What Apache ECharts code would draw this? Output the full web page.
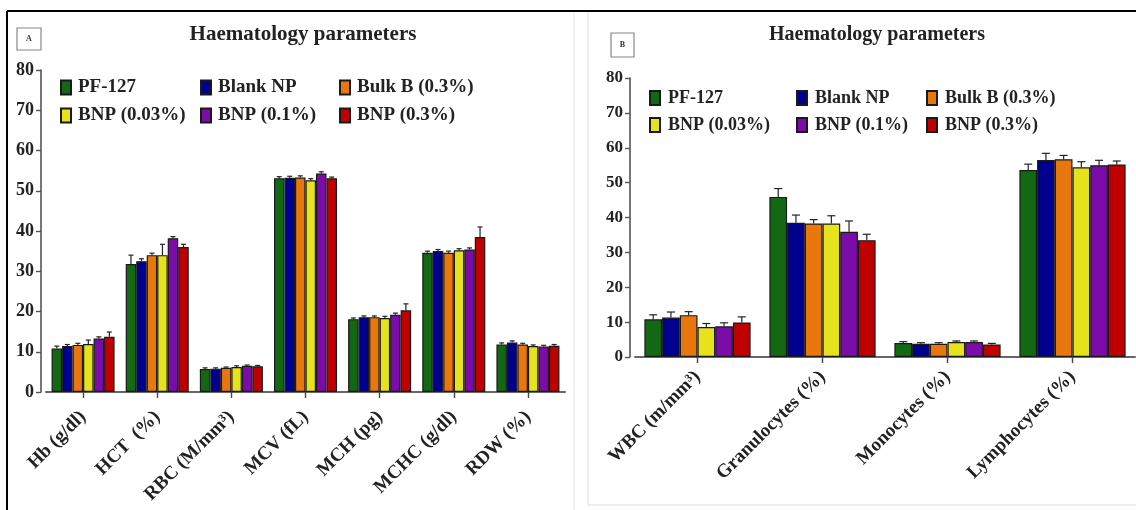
<!DOCTYPE html>
<html>
<head>
<meta charset="utf-8">
<script src="https://cdn.jsdelivr.net/npm/echarts@6/dist/echarts.min.js"></script>
<style>
  html, body { margin: 0; padding: 0; background: #fff; }
  #chart { width: 1136px; height: 510px; }
</style>
</head>
<body>
<div id="chart"></div>
<script>
// Panel A: red cell indices
const paramsA = ['Hb (g/dl)', 'HCT  (%)', 'RBC (M/mm³)', 'MCV (fL)', 'MCH (pg)', 'MCHC (g/dl)', 'RDW (%)'];
// Panel B: white cell counts
const paramsB = ['WBC (m/mm³)', 'Granulocytes (%)', 'Monocytes (%)', 'Lymphocytes (%)'];

const groupNames = ['PF-127', 'Blank NP', 'Bulk B (0.3%)', 'BNP (0.03%)', 'BNP (0.1%)', 'BNP (0.3%)'];

const pf127A   = [10.8, 31.8, 5.7, 53.1, 18.1, 34.6, 11.8];
const blankNpA = [11.4, 32.5, 5.8, 53.2, 18.6, 35.0, 12.3];
const bulkBA   = [11.7, 34.0, 6.0, 53.3, 18.6, 34.6, 11.8];
const bnp003A  = [11.9, 34.0, 6.2, 52.6, 18.4, 35.2, 11.4];
const bnp01A   = [13.3, 38.2, 6.5, 54.3, 19.2, 35.4, 11.3];
const bnp03A   = [13.7, 36.0, 6.4, 53.1, 20.3, 38.5, 11.5];

const pf127AErr   = [0.6, 2.2, 0.3, 0.4, 0.3, 0.4, 0.4];
const blankNpAErr = [0.4, 0.6, 0.2, 0.4, 0.3, 0.4, 0.4];
const bulkBAErr   = [0.4, 0.5, 0.2, 0.4, 0.3, 0.4, 0.3];
const bnp003AErr  = [1.0, 2.7, 0.3, 0.4, 0.4, 0.4, 0.3];
const bnp01AErr   = [0.4, 0.4, 0.2, 0.4, 0.4, 0.4, 0.3];
const bnp03AErr   = [1.2, 0.7, 0.2, 0.3, 1.6, 2.5, 0.3];

const pf127B   = [10.8, 45.9, 4.0, 53.6];
const blankNpB = [11.3, 38.5, 3.8, 56.5];
const bulkBB   = [12.0, 38.3, 3.8, 56.7];
const bnp003B  = [8.6, 38.3, 4.3, 54.4];
const bnp01B   = [8.8, 35.9, 4.3, 55.0];
const bnp03B   = [9.9, 33.5, 3.6, 55.2];

const pf127BErr   = [1.3, 2.4, 0.4, 1.7];
const blankNpBErr = [1.6, 2.2, 0.3, 1.9];
const bulkBBErr   = [1.0, 1.1, 0.3, 1.1];
const bnp003BErr  = [1.0, 2.2, 0.3, 1.6];
const bnp01BErr   = [1.0, 3.1, 0.3, 1.4];
const bnp03BErr   = [1.6, 1.7, 0.3, 1.0];

const yTicks = [0, 10, 20, 30, 40, 50, 60, 70, 80];

const colors = ['#136813', '#00008e', '#e8780e', '#e6e21c', '#7c0ca8', '#c00000'];
const FONT = 'Liberation Serif';
const CAT_GAP = 0.15;

const valuesA = [pf127A, blankNpA, bulkBA, bnp003A, bnp01A, bnp03A];
const errorsA = [pf127AErr, blankNpAErr, bulkBAErr, bnp003AErr, bnp01AErr, bnp03AErr];
const valuesB = [pf127B, blankNpB, bulkBB, bnp003B, bnp01B, bnp03B];
const errorsB = [pf127BErr, blankNpBErr, bulkBBErr, bnp003BErr, bnp01BErr, bnp03BErr];

// Upper whisker with a cap, placed over the matching bar inside its group
function errorRenderer(nGroups, capHalf) {
  return function (params, api) {
    const cat = api.value(0), g = api.value(1), v = api.value(2), e = api.value(3);
    const band = api.size([1, 0])[0];
    const barW = band * (1 - CAT_GAP) / nGroups;
    const base = api.coord([cat, v]);
    const top = api.coord([cat, v + e]);
    const x = base[0] + (g - (nGroups - 1) / 2) * barW;
    const st = { stroke: '#222', lineWidth: 1.2 };
    return {
      type: 'group',
      children: [
        { type: 'line', shape: { x1: x, y1: base[1], x2: x, y2: top[1] }, style: st },
        { type: 'line', shape: { x1: x - capHalf, y1: top[1], x2: x + capHalf, y2: top[1] }, style: st }
      ]
    };
  };
}

function errorData(values, errors) {
  const out = [];
  values.forEach((arr, g) => arr.forEach((v, c) => out.push([c, g, v, errors[g][c]])));
  return out;
}

function barSeries(values, axisIdx) {
  return values.map((arr, g) => ({
    name: groupNames[g],
    type: 'bar',
    xAxisIndex: axisIdx,
    yAxisIndex: axisIdx,
    data: arr,
    barGap: '0%',
    barCategoryGap: (CAT_GAP * 100) + '%',
    itemStyle: { color: colors[g], borderColor: '#1a1a1a', borderWidth: 1.2 },
    animation: false
  }));
}

function legendColumn(names, left, top, size, textLeft) {
  return {
    data: names,
    orient: 'vertical',
    left: left,
    top: top,
    padding: 0,
    icon: 'rect',
    itemWidth: 10,
    itemHeight: 14,
    itemGap: 9,
    selectedMode: false,
    textStyle: {
      fontFamily: FONT, fontWeight: 'bold', fontSize: size, color: '#222',
      padding: [0, 0, 0, textLeft]
    }
  };
}

function yAxisFor(gridIdx, size) {
  return {
    type: 'value', gridIndex: gridIdx, min: yTicks[0], max: yTicks[yTicks.length - 1],
    interval: yTicks[1] - yTicks[0], offset: 5,
    axisLine: { show: true, lineStyle: { color: '#555', width: 1.6 } },
    axisTick: { show: true, length: 5, lineStyle: { color: '#555', width: 1.4 } },
    splitLine: { show: false },
    axisLabel: { fontFamily: FONT, fontWeight: 'bold', fontSize: size, color: '#222', margin: 7 }
  };
}

function xAxisFor(gridIdx, cats, size, margin) {
  return {
    type: 'category', gridIndex: gridIdx, data: cats,
    axisLine: { show: true, lineStyle: { color: '#666', width: 2 } },
    axisTick: { show: true, alignWithLabel: true, length: 6, lineStyle: { color: '#444', width: 1.4 } },
    axisLabel: {
      rotate: 45, interval: 0, fontFamily: FONT, fontWeight: 'bold', fontSize: size,
      color: '#222', margin: margin
    }
  };
}

const chart = echarts.init(document.getElementById('chart'), null, { renderer: 'canvas' });

chart.setOption({
  backgroundColor: '#fff',
  animation: false,
  title: [
    { text: 'Haematology parameters', left: 298, top: 19, textAlign: 'center',
      textStyle: { fontFamily: FONT, fontWeight: 'bold', fontSize: 21, color: '#222' } },
    { text: 'Haematology parameters', left: 872, top: 20, textAlign: 'center',
      textStyle: { fontFamily: FONT, fontWeight: 'bold', fontSize: 20, color: '#222' } }
  ],
  legend: [
    legendColumn([groupNames[0], groupNames[3]], 60, 78, 19, 2),
    legendColumn([groupNames[1], groupNames[4]], 200, 78, 19, 2),
    legendColumn([groupNames[2], groupNames[5]], 339, 78, 19, 2),
    legendColumn([groupNames[0], groupNames[3]], 649, 89, 18, 3),
    legendColumn([groupNames[1], groupNames[4]], 796, 89, 18, 3),
    legendColumn([groupNames[2], groupNames[5]], 926, 89, 18, 3)
  ],
  grid: [
    { left: 46, right: 571, top: 70, bottom: 118 },
    { left: 635, right: 1, top: 78, bottom: 153 }
  ],
  xAxis: [xAxisFor(0, paramsA, 19, 22), xAxisFor(1, paramsB, 19, 17)],
  yAxis: [yAxisFor(0, 18), yAxisFor(1, 17)],
  series: [
    ...barSeries(valuesA, 0),
    ...barSeries(valuesB, 1),
    {
      type: 'custom', xAxisIndex: 0, yAxisIndex: 0, z: 5,
      renderItem: errorRenderer(6, 2.5),
      encode: { x: 0, y: 2 },
      data: errorData(valuesA, errorsA)
    },
    {
      type: 'custom', xAxisIndex: 1, yAxisIndex: 1, z: 5,
      renderItem: errorRenderer(6, 4),
      encode: { x: 0, y: 2 },
      data: errorData(valuesB, errorsB)
    }
  ],
  graphic: [
    // outer frame and panel borders
    { type: 'line', shape: { x1: 7, y1: 11, x2: 1136, y2: 11 }, style: { stroke: '#000', lineWidth: 2 } },
    { type: 'line', shape: { x1: 7, y1: 11, x2: 7, y2: 510 }, style: { stroke: '#000', lineWidth: 2 } },
    { type: 'line', shape: { x1: 574, y1: 12, x2: 574, y2: 510 }, style: { stroke: '#e6e6e6', lineWidth: 1 } },
    { type: 'line', shape: { x1: 588, y1: 12, x2: 588, y2: 505 }, style: { stroke: '#dcdcdc', lineWidth: 1 } },
    { type: 'line', shape: { x1: 588, y1: 505, x2: 1136, y2: 505 }, style: { stroke: '#dcdcdc', lineWidth: 1 } },
    // panel tags
    { type: 'rect', shape: { x: 17, y: 28, width: 24, height: 22 }, style: { fill: '#fff', stroke: '#888', lineWidth: 1.2 } },
    { type: 'text', x: 29, y: 39, style: { text: 'A', font: 'bold 8px "Liberation Serif"', fill: '#333', align: 'center', verticalAlign: 'middle' } },
    { type: 'rect', shape: { x: 611, y: 33, width: 23, height: 24 }, style: { fill: '#fff', stroke: '#888', lineWidth: 1.2 } },
    { type: 'text', x: 622.5, y: 45, style: { text: 'B', font: 'bold 8px "Liberation Serif"', fill: '#333', align: 'center', verticalAlign: 'middle' } }
  ]
});
</script>
</body>
</html>
